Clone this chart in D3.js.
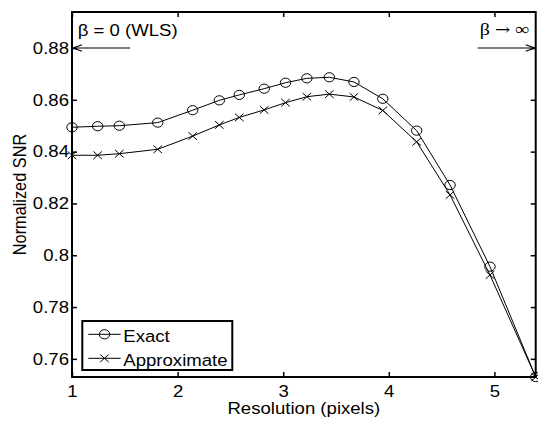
<!DOCTYPE html>
<html><head><meta charset="utf-8">
<script src="https://cdn.jsdelivr.net/npm/d3@7"></script>
<style>
body{margin:0;background:#fff}
svg text{font-family:"Liberation Sans",Arial,Helvetica,sans-serif;fill:#000}
.sx{transform-box:fill-box;transform-origin:50% 50%;transform:scaleX(1.14)}
.sxr{transform-box:fill-box;transform-origin:100% 50%;transform:scaleX(1.14)}
.sxl{transform-box:fill-box;transform-origin:0% 50%;transform:scaleX(1.14)}
.sy{transform-box:fill-box;transform-origin:50% 50%;transform:scaleY(1.14)}
</style></head><body>
<svg id="c" width="538" height="423"></svg>
<script>
// ---- data ----
const resolution = [1.00,1.243,1.448,1.812,2.143,2.395,2.584,2.820,3.022,3.224,3.437,3.670,3.943,4.264,4.580,4.958,5.391];
const exactSNR   = [0.8494,0.8498,0.8500,0.8512,0.8560,0.8598,0.8619,0.8643,0.8666,0.8683,0.8687,0.8669,0.8604,0.8481,0.8271,0.7956,0.7530];
const approxSNR  = [0.8386,0.8386,0.8392,0.8409,0.8460,0.8503,0.8532,0.8561,0.8589,0.8612,0.8622,0.8611,0.8559,0.8438,0.8233,0.7924,0.7530];
const xTicks = [1,2,3,4,5];
const yTicks = [0.76,0.78,0.80,0.82,0.84,0.86,0.88];
const seriesNames = ["Exact","Approximate"];
const leftNote = "β = 0 (WLS)";
const rightNoteParts = ["β ", "→", " ∞"];
const xLabel = "Resolution (pixels)";
const yLabel = "Normalized SNR";

// ---- layout ----
const W = 538, H = 423;
const m = {left:72, top:12, right:2.3, bottom:46};
const x = d3.scaleLinear().domain([1, 5.391]).range([m.left, W - m.right]);
const y = d3.scaleLinear().domain([0.753, 0.8939]).range([H - m.bottom, m.top]);
const svg = d3.select("#c");
const fs = 16.3;

// axes
const gx = svg.append("g").attr("transform",`translate(0,${H-m.bottom})`)
  .call(d3.axisBottom(x).tickValues(xTicks).tickFormat(d3.format("d")).tickSizeInner(-5).tickSizeOuter(0).tickPadding(8.5));
const gy = svg.append("g").attr("transform",`translate(${m.left},0)`)
  .call(d3.axisLeft(y).tickValues(yTicks).tickFormat(d => d3.format("")(+d.toFixed(2))).tickSizeInner(-5).tickSizeOuter(0).tickPadding(3));
const gt = svg.append("g").attr("transform",`translate(0,${m.top})`)
  .call(d3.axisTop(x).tickValues(xTicks).tickFormat("").tickSizeInner(-5).tickSizeOuter(0));
const gr = svg.append("g").attr("transform",`translate(${W-m.right},0)`)
  .call(d3.axisRight(y).tickValues(yTicks).tickFormat("").tickSizeInner(-5).tickSizeOuter(0));
[gx,gy,gt,gr].forEach(g=>{
  g.select(".domain").remove();
  g.selectAll(".tick line").attr("stroke","#000").attr("stroke-width",1.5);
  g.selectAll("text").attr("font-size",fs).attr("font-family",null).attr("fill","#000");
});
gx.selectAll("text").attr("class","sx");
gy.selectAll("text").attr("class","sxr");

// frame
svg.append("rect").attr("x",m.left).attr("y",m.top)
  .attr("width",W-m.right-m.left).attr("height",H-m.bottom-m.top)
  .attr("fill","none").attr("stroke","#000").attr("stroke-width",2);

// axis labels
svg.append("text").attr("class","sx").attr("x",(x.range()[0]+x.range()[1])/2).attr("y",414)
  .attr("text-anchor","middle").attr("font-size",fs).text(xLabel);
svg.append("g").attr("transform",`translate(25.5,${(y.range()[0]+y.range()[1])/2}) rotate(-90)`)
  .append("text").attr("class","sy").attr("text-anchor","middle").attr("font-size",fs).text(yLabel);

// data lines
const line = d3.line().x(d=>x(d[0])).y(d=>y(d[1]));
const exactPts = resolution.map((r,i)=>[r,exactSNR[i]]);
const approxPts = resolution.map((r,i)=>[r,approxSNR[i]]);
svg.append("path").attr("d",line(exactPts)).attr("fill","none").attr("stroke","#000").attr("stroke-width",1);
svg.append("path").attr("d",line(approxPts)).attr("fill","none").attr("stroke","#000").attr("stroke-width",1);

function circ(g,cx,cy){ g.append("ellipse").attr("cx",cx).attr("cy",cy).attr("rx",5.2).attr("ry",4.6).attr("fill","none").attr("stroke","#000").attr("stroke-width",1); }
function cross(g,cx,cy){ const a=4.3,b=3.8; g.append("path").attr("d",`M${cx-a},${cy-b}L${cx+a},${cy+b}M${cx-a},${cy+b}L${cx+a},${cy-b}`).attr("stroke","#000").attr("stroke-width",1); }
exactPts.forEach(d=>circ(svg,x(d[0]),y(d[1])));
approxPts.forEach(d=>cross(svg,x(d[0]),y(d[1])));

// annotations with arrows
const ay = y(0.88);
function arrow(x1,x2){
  svg.append("line").attr("x1",x1).attr("x2",x2).attr("y1",ay).attr("y2",ay).attr("stroke","#000").attr("stroke-width",1.2);
  const dir = Math.sign(x1-x2);
  svg.append("path").attr("d",`M${x2+dir*9},${ay-3.2}L${x2},${ay}L${x2+dir*9},${ay+3.2}`).attr("fill","none").attr("stroke","#000").attr("stroke-width",1.2);
}
arrow(x(1.55), x(1)+1);
arrow(x(5.391)-58, x(5.391)-1);
svg.append("text").attr("class","sxl").attr("x",77.7).attr("y",36).attr("font-size",fs).text(leftNote);
const rt = svg.append("text").attr("class","sxr").attr("x",529.5).attr("y",34.7).attr("text-anchor","end")
  .attr("font-size",17.5).style("font-family","'Liberation Serif','Times New Roman',serif");
rt.append("tspan").text(rightNoteParts[0]);
rt.append("tspan").style("font-family","'DejaVu Serif',serif").attr("font-size",16).text(rightNoteParts[1]);
rt.append("tspan").text(rightNoteParts[2]);

// legend
const lg = svg.append("g");
const lx = 82.3, ly = 321, lw = 150, lh = 49;
lg.append("rect").attr("x",lx).attr("y",ly).attr("width",lw).attr("height",lh).attr("fill","#fff").attr("stroke","#000").attr("stroke-width",2);
seriesNames.forEach((name,i)=>{
  const yy = ly + 13.3 + i*24;
  lg.append("line").attr("x1",lx+6).attr("x2",lx+38.4).attr("y1",yy).attr("y2",yy).attr("stroke","#000").attr("stroke-width",1);
  if(i===0) circ(lg,lx+22.2,yy); else cross(lg,lx+22.2,yy);
  lg.append("text").attr("class","sxl").attr("x",lx+41).attr("y",yy+7.3).attr("font-size",fs).text(name);
});
</script>
</body></html>
